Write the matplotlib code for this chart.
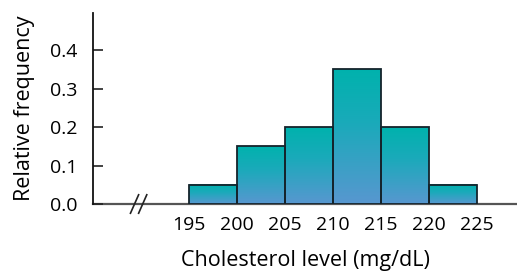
import numpy as np
import matplotlib
matplotlib.use("Agg")
import matplotlib.pyplot as plt
from matplotlib.colors import LinearSegmentedColormap

# data
bin_edges = [195, 200, 205, 210, 215, 220, 225]
rel_freq = [0.05, 0.15, 0.20, 0.35, 0.20, 0.05]
y_ticks = [0.0, 0.1, 0.2, 0.3, 0.4]

plt.rcParams["font.family"] = ["Open Sans", "DejaVu Sans"]

fig = plt.figure(figsize=(5.17, 2.72), dpi=100)
ax = fig.add_axes([0.180, 0.25, 0.82, 0.702])

cmap = LinearSegmentedColormap.from_list(
    "tealblue", [(0.0, "#5897d0"), (0.6, "#1aaaba"), (1.0, "#00b2ad")])
grad = np.linspace(0, 1, 256).reshape(-1, 1)

for left, right, h in zip(bin_edges[:-1], bin_edges[1:], rel_freq):
    ax.imshow(grad, cmap=cmap, origin="lower", aspect="auto",
              extent=[left, right, 0, h], zorder=2)
    ax.bar(left, h, width=right - left, align="edge", fill=False,
           edgecolor="#15232b", linewidth=1.3, zorder=3)

ax.set_xlim(185, 229.2)
ax.set_ylim(0, 0.496)

ax.set_xticks(bin_edges)
ax.set_xticklabels([str(e) for e in bin_edges], fontsize=14)
ax.tick_params(axis="x", length=0, pad=9)

ax.set_yticks(y_ticks)
ax.set_yticklabels([f"{t:.1f}" for t in y_ticks], fontsize=14)
ax.tick_params(axis="y", direction="in", length=7, width=1.2, pad=11,
               color="#222222")

for s in ["top", "right"]:
    ax.spines[s].set_visible(False)
ax.spines["left"].set_linewidth(1.3)
ax.spines["left"].set_color("#111111")
ax.spines["bottom"].set_linewidth(1.6)
ax.spines["bottom"].set_color("#555555")
ax.spines["bottom"].set_zorder(1)

# axis break mark
for dx in [0.0, 0.85]:
    ax.plot([188.9 + dx, 189.75 + dx], [-0.024, 0.024], color="#222222",
            linewidth=1.2, clip_on=False, zorder=4)

ax.set_xlabel("Cholesterol level (mg/dL)", fontsize=15.5, labelpad=11)
ax.set_ylabel("Relative frequency", fontsize=15.5)
ax.yaxis.set_label_coords(-0.137, 0.5)

fig.savefig("out.png", dpi=100)
